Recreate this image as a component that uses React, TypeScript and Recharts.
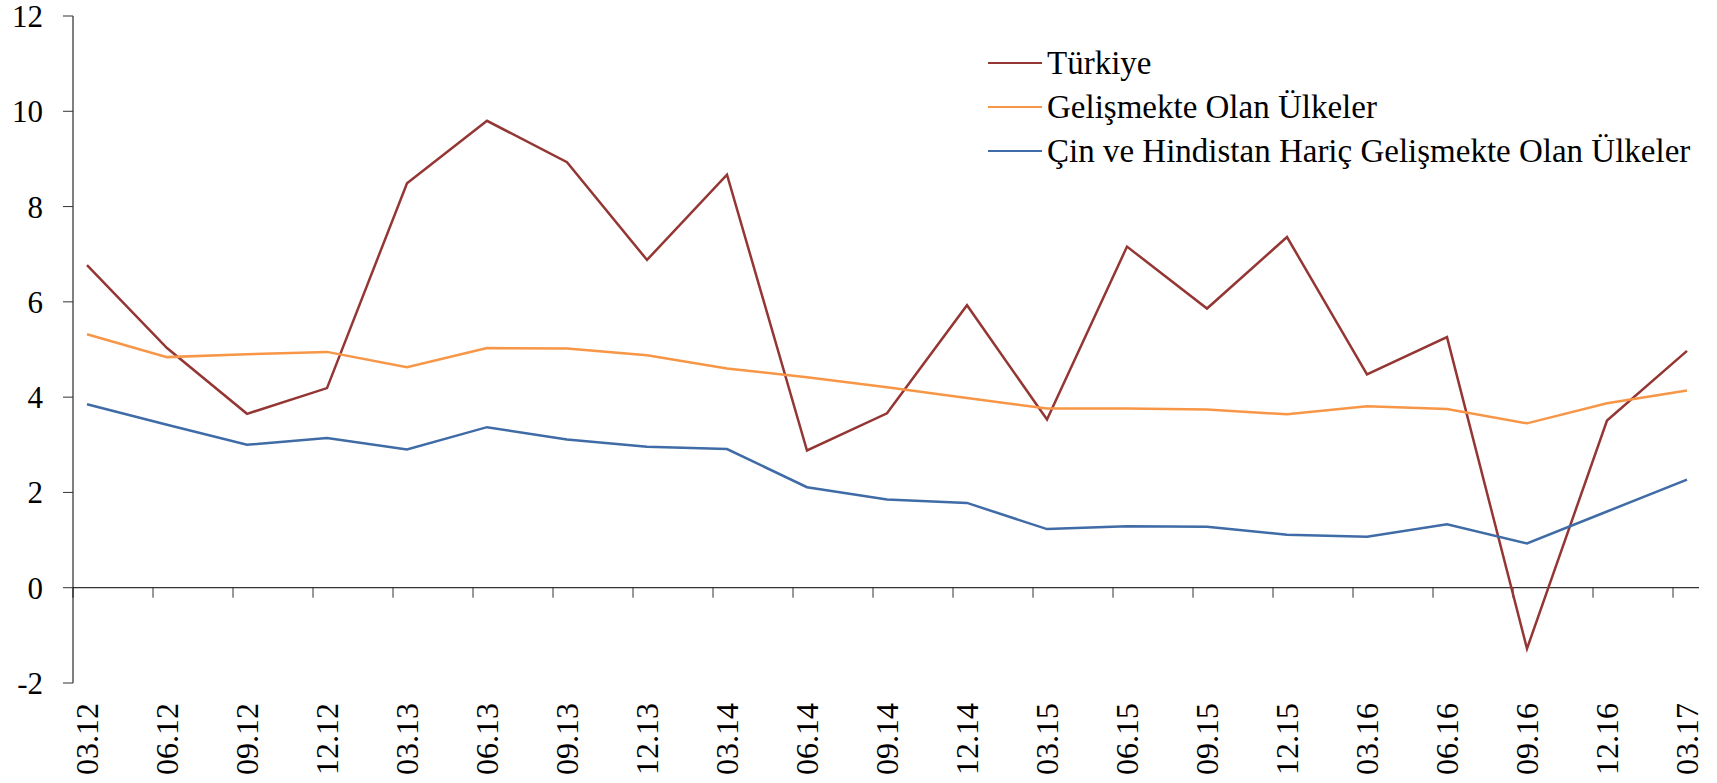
import React from 'react';
import { LineChart, Line, XAxis, YAxis, ReferenceLine, Legend } from 'recharts';

const quarters = [
  '03.12', '06.12', '09.12', '12.12', '03.13', '06.13', '09.13', '12.13', '03.14', '06.14', '09.14',
  '12.14', '03.15', '06.15', '09.15', '12.15', '03.16', '06.16', '09.16', '12.16', '03.17',
];

const turkiye = [6.77, 5.03, 3.65, 4.19, 8.49, 9.8, 8.93, 6.88, 8.67, 2.88, 3.66, 5.93, 3.53, 7.16, 5.86, 7.36, 4.48, 5.26, -1.28, 3.51, 4.97];
const gelismekte = [5.32, 4.84, 4.9, 4.95, 4.63, 5.03, 5.02, 4.88, 4.6, 4.42, 4.21, 3.98, 3.76, 3.76, 3.74, 3.64, 3.81, 3.75, 3.45, 3.87, 4.14];
const cinHindistanHaric = [3.85, 3.42, 3.0, 3.14, 2.9, 3.37, 3.11, 2.96, 2.91, 2.11, 1.85, 1.78, 1.23, 1.29, 1.28, 1.11, 1.07, 1.33, 0.93, 1.6, 2.27];

const yTicks = [-2, 0, 2, 4, 6, 8, 10, 12];

const series = [
  { key: 'turkiye', name: 'Türkiye', color: '#943634' },
  { key: 'gelismekte', name: 'Gelişmekte Olan Ülkeler', color: '#F79646' },
  { key: 'cinHindistanHaric', name: 'Çin ve Hindistan Hariç Gelişmekte Olan Ülkeler', color: '#3F6BA6' },
];

const data = quarters.map((q, i) => ({
  idx: i,
  quarter: q,
  turkiye: turkiye[i],
  gelismekte: gelismekte[i],
  cinHindistanHaric: cinHindistanHaric[i],
}));

// excel draws the category tick marks a bit left of each point
const markOffset = 0.175;
const xTickMarks = quarters.map((_, i) => i - markOffset);

const FONT = '"Liberation Serif", "Times New Roman", serif';

const QuarterTick = (props: any) => {
  const { x, y, payload } = props;
  return (
    <text
      x={x}
      y={y}
      dy="0.35em"
      transform={`rotate(-90, ${x}, ${y})`}
      textAnchor="end"
      fill="#000"
      fontSize={32}
      fontFamily={FONT}
    >
      {quarters[payload.value]}
    </text>
  );
};

const LegendBox = () => (
  <div style={{ fontFamily: FONT, fontSize: 33, color: '#000' }}>
    {series.map((s) => (
      <div key={s.key} style={{ display: 'flex', alignItems: 'center', height: 44, whiteSpace: 'nowrap' }}>
        <div style={{ width: 54, height: 2.5, background: s.color, marginRight: 5 }} />
        <span style={{ lineHeight: '44px' }}>{s.name}</span>
      </div>
    ))}
  </div>
);

const App: React.FC = () => {
  return (
    <div style={{ position: 'absolute', left: 0, top: 0, width: 1717, height: 783, background: '#fff' }}>
      <LineChart width={1717} height={783} data={data} margin={{ top: 16, right: 18, bottom: 0, left: 0 }}>
        <XAxis
          type="number"
          dataKey="idx"
          domain={[-markOffset, quarters.length - 1 + 0.15]}
          ticks={quarters.map((_, i) => i)}
          interval={0}
          axisLine={false}
          tickLine={false}
          tickSize={0}
          tickMargin={20}
          height={100}
          tick={<QuarterTick />}
        />
        <YAxis
          domain={[-2, 12]}
          ticks={yTicks}
          interval={0}
          width={73}
          axisLine={{ stroke: '#000', strokeWidth: 1 }}
          tickLine={{ stroke: '#333', strokeWidth: 1 }}
          tickSize={10}
          tickMargin={20}
          tick={{ fill: '#000', fontSize: 31, fontFamily: FONT }}
        />
        <ReferenceLine y={0} stroke="#000" strokeWidth={1} ifOverflow="visible" />
        {xTickMarks.map((t) => (
          <ReferenceLine
            key={t}
            segment={[{ x: t, y: 0 }, { x: t, y: -0.21 }]}
            stroke="#333"
            strokeWidth={1}
            ifOverflow="visible"
          />
        ))}
        {series.map((s) => (
          <Line
            key={s.key}
            type="linear"
            dataKey={s.key}
            name={s.name}
            stroke={s.color}
            strokeWidth={2.5}
            dot={false}
            activeDot={false}
            isAnimationActive={false}
          />
        ))}
        <Legend
          layout="vertical"
          align="center"
          verticalAlign="middle"
          content={<LegendBox />}
          wrapperStyle={{ left: 988, top: 41, width: 720 }}
        />
      </LineChart>
    </div>
  );
};

export default App;
